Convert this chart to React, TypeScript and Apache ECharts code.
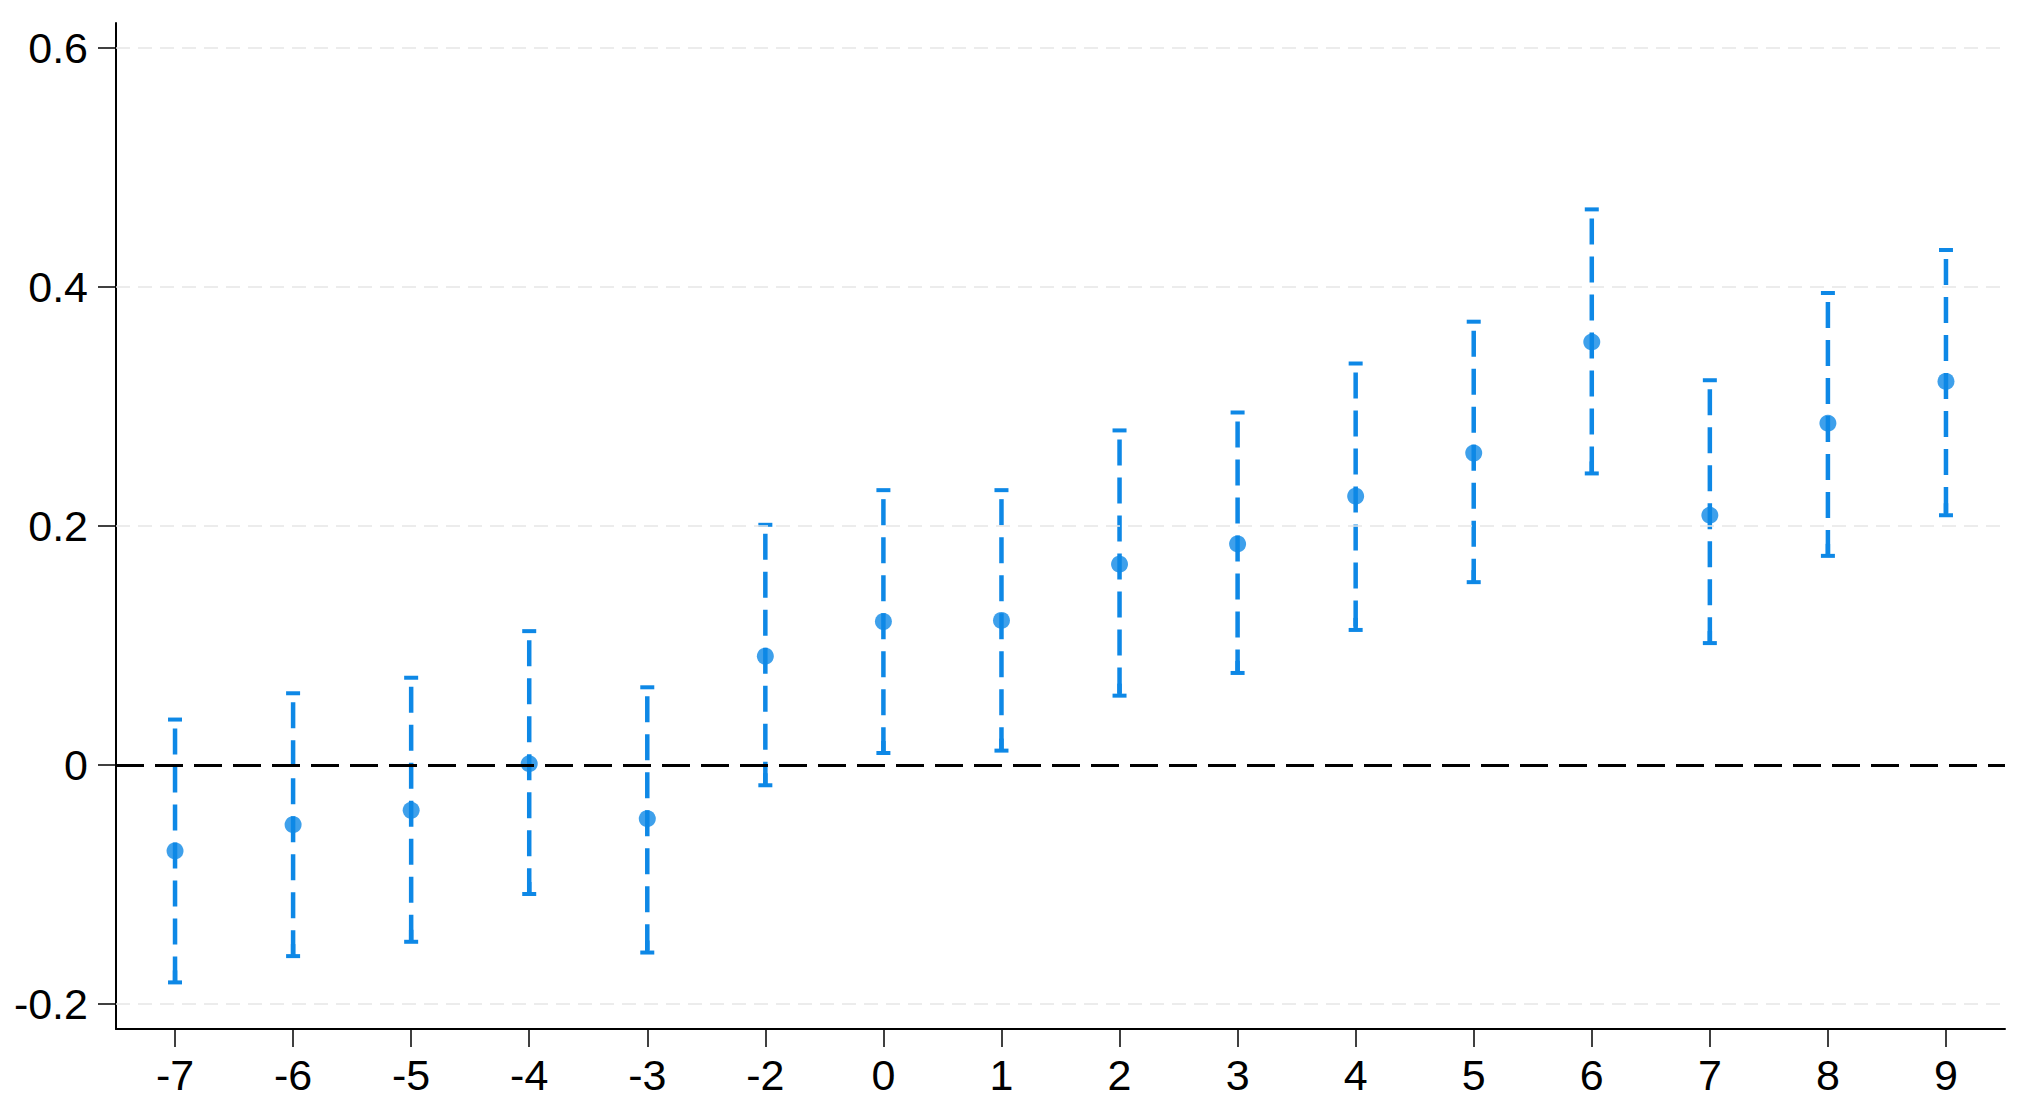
import React, { useEffect, useRef } from "react";
import * as echarts from "echarts";

const categories = ["-7", "-6", "-5", "-4", "-3", "-2", "0", "1", "2", "3", "4", "5", "6", "7", "8", "9"];
const estimates = [-0.072, -0.050, -0.038, 0.001, -0.045, 0.091, 0.120, 0.121, 0.168, 0.185, 0.225, 0.261, 0.354, 0.209, 0.286, 0.321];
const lower = [-0.182, -0.160, -0.148, -0.108, -0.157, -0.017, 0.010, 0.012, 0.058, 0.077, 0.113, 0.153, 0.244, 0.102, 0.175, 0.209];
const upper = [0.038, 0.060, 0.073, 0.112, 0.065, 0.201, 0.230, 0.230, 0.280, 0.295, 0.336, 0.371, 0.465, 0.322, 0.395, 0.431];
const yTicks = [-0.2, 0, 0.2, 0.4, 0.6];
const gridValues = [-0.2, 0.2, 0.4, 0.6];

const BLUE = "#0e88e6";
const FONT = "'Liberation Sans', Arial, Helvetica, sans-serif";

export default function App() {
  const ref = useRef<HTMLDivElement>(null);
  useEffect(() => {
    if (!ref.current) return;
    const chart = echarts.init(ref.current, null, { renderer: "svg" });
    const barData = categories.map((_, i) => [i, lower[i], upper[i]]);
    const pointData = categories.map((_, i) => [i, estimates[i]]);
    chart.setOption({
      animation: false,
      backgroundColor: "#ffffff",
      grid: { left: 116, right: 19, top: 23, bottom: 79, containLabel: false },
      xAxis: {
        type: "category",
        data: categories,
        boundaryGap: true,
        axisLine: { show: true, onZero: false, lineStyle: { color: "#000", width: 2 } },
        axisTick: { show: true, alignWithLabel: true, length: 18, lineStyle: { color: "#000", width: 1.5 } },
        axisLabel: { color: "#000", fontSize: 43, fontFamily: FONT, margin: 24 },
        splitLine: { show: false },
      },
      yAxis: {
        type: "value",
        min: -0.221,
        max: 0.621,
        axisLine: { show: true, onZero: false, lineStyle: { color: "#000", width: 2 } },
        axisTick: { show: true, length: 18, customValues: yTicks, lineStyle: { color: "#000", width: 1.5 } },
        axisLabel: {
          color: "#000",
          fontSize: 43,
          fontFamily: FONT,
          margin: 28,
          customValues: yTicks,
          formatter: (v: number) => (Math.abs(v) < 1e-9 ? "0" : v.toFixed(1)),
        },
        splitLine: { show: false },
      },
      series: [
        {
          type: "line",
          data: [],
          z: 1,
          silent: true,
          markLine: {
            symbol: "none",
            silent: true,
            label: { show: false },
            lineStyle: { color: "#e6e6e6", width: 1.5, type: [14, 8] },
            data: gridValues.map((v) => ({ yAxis: v })),
          },
        },
        {
          type: "line",
          data: [],
          z: 2,
          silent: true,
          markLine: {
            symbol: "none",
            silent: true,
            label: { show: false },
            lineStyle: { color: "#000", width: 3, type: [28, 11] },
            data: [{ yAxis: 0 }],
          },
        },
        {
          type: "custom",
          z: 3,
          data: barData,
          encode: { x: 0, y: [1, 2] },
          renderItem: (params: any, api: any) => {
            const x = api.value(0);
            const lo = api.coord([x, api.value(1)]);
            const hi = api.coord([x, api.value(2)]);
            const cw = 7;
            return {
              type: "group",
              children: [
                {
                  type: "line",
                  shape: { x1: hi[0], y1: hi[1] + 9, x2: lo[0], y2: lo[1] },
                  style: { stroke: BLUE, lineWidth: 4.5, lineDash: [26, 12] },
                },
                {
                  type: "line",
                  shape: { x1: hi[0] - cw, y1: hi[1], x2: hi[0] + cw, y2: hi[1] },
                  style: { stroke: BLUE, lineWidth: 4 },
                },
                {
                  type: "line",
                  shape: { x1: lo[0] - cw, y1: lo[1], x2: lo[0] + cw, y2: lo[1] },
                  style: { stroke: BLUE, lineWidth: 4 },
                },
                {
                  type: "line",
                  shape: { x1: lo[0], y1: lo[1] - 12, x2: lo[0], y2: lo[1] },
                  style: { stroke: BLUE, lineWidth: 4.5 },
                },
              ],
            };
          },
        },
        {
          type: "scatter",
          z: 4,
          data: pointData,
          symbol: "circle",
          symbolSize: 17,
          itemStyle: { color: BLUE },
        },
      ],
    });
    return () => chart.dispose();
  }, []);
  return <div ref={ref} style={{ width: 2024, height: 1108, margin: -8 }} />;
}
